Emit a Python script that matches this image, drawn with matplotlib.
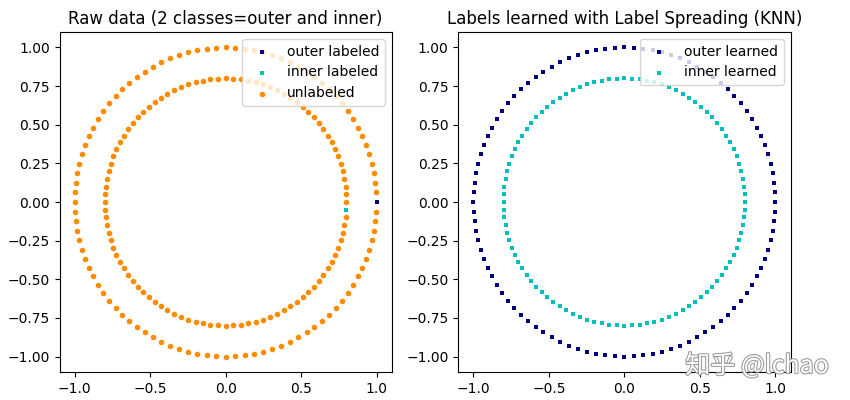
import numpy as np
import matplotlib
matplotlib.use("Agg")
import matplotlib.pyplot as plt
import matplotlib.patheffects as pe

# two concentric circles, 100 points each
n_per_circle = 100
outer_radius = 1.0
inner_radius = 0.8

# index of the one labeled point on each circle (0 = outer, -1 = inner)
outer_labeled_idx = 0
inner_labeled_idx = -1

titles = ["Raw data (2 classes=outer and inner)",
          "Labels learned with Label Spreading (KNN)"]

angles = np.linspace(0, 2 * np.pi, n_per_circle, endpoint=False)
outer_x = outer_radius * np.cos(angles)
outer_y = outer_radius * np.sin(angles)
inner_x = inner_radius * np.cos(angles)
inner_y = inner_radius * np.sin(angles)

X = np.vstack([np.c_[outer_x, outer_y], np.c_[inner_x, inner_y]])
labels = np.full(len(X), -1)
labels[outer_labeled_idx] = 0
labels[inner_labeled_idx] = 1
learned = np.r_[np.zeros(n_per_circle, int), np.ones(n_per_circle, int)]

fig = plt.figure(figsize=(8.5, 4), dpi=100)

# left: raw data
plt.subplot(1, 2, 1)
plt.scatter(X[labels == 0, 0], X[labels == 0, 1], color='navy', marker='s',
            lw=0, label='outer labeled', s=10)
plt.scatter(X[labels == 1, 0], X[labels == 1, 1], color='c', marker='s',
            lw=0, label='inner labeled', s=10)
plt.scatter(X[labels == -1, 0], X[labels == -1, 1], color='darkorange',
            marker='.', label='unlabeled')
plt.legend(scatterpoints=1, shadow=False, loc='upper right')
plt.title(titles[0])

# right: learned labels
plt.subplot(1, 2, 2)
plt.scatter(X[learned == 0, 0], X[learned == 0, 1], color='navy', marker='s',
            lw=0, s=10, label='outer learned')
plt.scatter(X[learned == 1, 0], X[learned == 1, 1], color='c', marker='s',
            lw=0, s=10, label='inner learned')
plt.legend(scatterpoints=1, shadow=False, loc='upper right')
plt.title(titles[1])

plt.subplots_adjust(left=0.07, bottom=0.07, right=0.93, top=0.92)

# watermark
fig.text(0.975, 0.085, "知乎 @lchao", ha='right', va='center', fontsize=18,
         color='white', family=['Noto Sans CJK SC', 'DejaVu Sans'],
         path_effects=[pe.withStroke(linewidth=1.5, foreground='#999999')])

plt.savefig("out.png", dpi=100)
